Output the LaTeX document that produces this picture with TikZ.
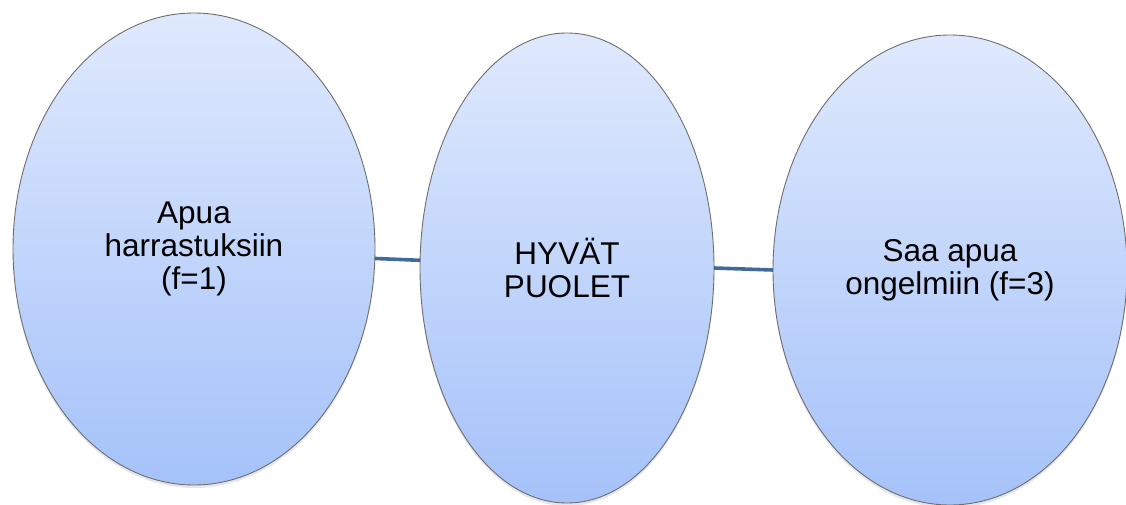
\documentclass[tikz,border=0pt]{standalone}
\usepackage{fontspec}
\setmainfont{Liberation Sans}
\usetikzlibrary{shapes.geometric,shadows}
\definecolor{topc}{HTML}{DFE9FD}
\definecolor{botc}{HTML}{A5C2F9}
\definecolor{edgec}{HTML}{6E6E6E}
\definecolor{linec}{HTML}{41699A}
\tikzset{
  bubble/.style={ellipse, draw=edgec, line width=0.9pt, top color=topc, bottom color=botc,
    inner sep=0pt, outer sep=0pt, align=center, text=black,
    font=\fontsize{31.5}{33}\selectfont,
    drop shadow={opacity=0.2, shadow xshift=0pt, shadow yshift=-3pt}},
  link/.style={draw=linec, line width=3.6pt}
}
\begin{document}
\begin{tikzpicture}[x=1pt,y=-1pt]
\useasboundingbox (0,0) rectangle (1126,505);
\node[bubble, minimum width=362pt, minimum height=472pt] (L) at (194,249) {Apua\\harrastuksiin\\(f=1)};
\node[bubble, minimum width=294pt, minimum height=470pt] (M) at (567,268) {HYVÄT\\PUOLET};
\node[bubble, minimum width=354pt, minimum height=470pt] (R) at (950,270) {Saa apua\\ongelmiin (f=3)};
\draw[link] (L.-3) -- (M.177);
\draw[link] (M.0) -- (R.180);
\end{tikzpicture}
\end{document}
